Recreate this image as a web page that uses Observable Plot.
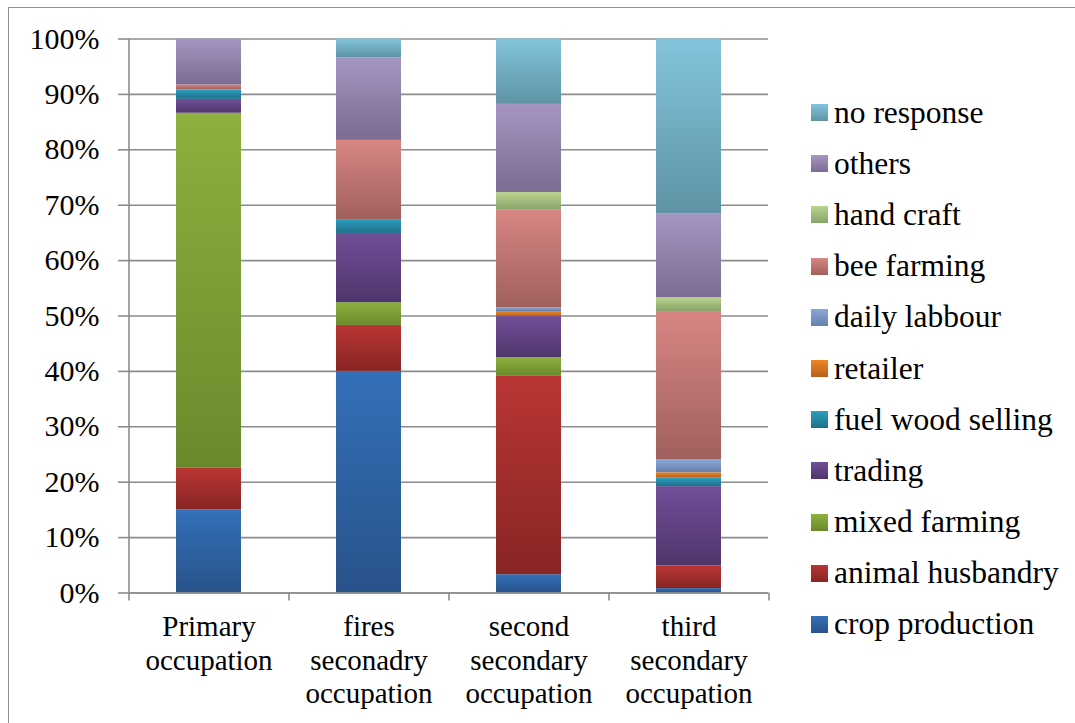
<!DOCTYPE html>
<html>
<head>
<meta charset="utf-8">
<script src="https://cdn.jsdelivr.net/npm/d3@7"></script>
<script src="https://cdn.jsdelivr.net/npm/@observablehq/plot@0.6"></script>
<style>
  .wrap { position: relative; width: 1075px; height: 723px; overflow: hidden; font-family: 'Liberation Serif', serif; }
  .border { position: absolute; left: 8px; top: 7px; width: 1200px; height: 800px; border-left: 1.5px solid #8f8f8f; border-top: 1.5px solid #8f8f8f; }
  .chart { position: absolute; left: 0; top: 0; }
  .legend { position: absolute; left: 811px; top: 87px; font-size: 31.5px; color: #000; font-family: 'Liberation Serif', serif; }
  .row { display: flex; align-items: center; height: 51.2px; }
  .sw { width: 17px; height: 17px; margin-right: 6px; flex: none; }
</style>
</head>
<body style="margin:0">
<div class="wrap">
  <div class="border"></div>
  <div class="chart" id="chart"></div>
  <div class="legend" id="legend"></div>
</div>
<script>
// ---- data ----
const categories = ["Primary occupation", "fires seconadry occupation", "second secondary occupation", "third secondary occupation"];
const categoryLabels = ["Primary\noccupation", "fires\nseconadry\noccupation", "second\nsecondary\noccupation", "third\nsecondary\noccupation"];
const series = ["crop production", "animal husbandry", "mixed farming", "trading", "fuel wood selling", "retailer", "daily labbour", "bee farming", "hand craft", "others", "no response"];
const cropProduction   = [15.0, 40.0, 3.3, 0.8];
const animalHusbandry  = [7.5, 8.3, 35.8, 4.1];
const mixedFarming     = [64.1, 4.1, 3.4, 0];
const trading          = [2.5, 12.5, 7.4, 14.3];
const fuelWoodSelling  = [1.7, 2.5, 0, 1.6];
const retailer         = [0, 0, 0.9, 0.9];
const dailyLabbour     = [0, 0, 0.7, 2.3];
const beeFarming       = [0.9, 14.3, 17.6, 26.8];
const handCraft        = [0, 0, 3.2, 2.5];
const others           = [8.3, 14.9, 15.9, 15.1];
const noResponse       = [0, 3.4, 11.8, 31.6];
const yTicks = [0, 10, 20, 30, 40, 50, 60, 70, 80, 90, 100];

const seriesValues = [cropProduction, animalHusbandry, mixedFarming, trading, fuelWoodSelling, retailer, dailyLabbour, beeFarming, handCraft, others, noResponse];
// gradient colours (top, bottom) per series
const gradTop    = ["#3470b8", "#b93633", "#8db03f", "#714f98", "#2b9ec0", "#f08526", "#8aa7d6", "#d88684", "#bad38f", "#a595c1", "#83c4dc"];
const gradBottom = ["#28528a", "#882524", "#698a2c", "#4f356c", "#1f7089", "#b75f1c", "#6680ab", "#a0605d", "#88a36a", "#7c6b92", "#5f93a5"];

const rows = [];
series.forEach((s, si) => categories.forEach((c, ci) => rows.push({category: c, series: s, value: seriesValues[si][ci]})));

// ---- layout ----
const W = 1075, H = 723;
const mL = 128, mR = 307, mT = 38.5, mB = 130.5;
const step = (W - mL - mR) / categories.length;
const font = "Liberation Serif";

const plot = Plot.plot({
  width: W,
  height: H,
  marginLeft: mL,
  marginRight: mR,
  marginTop: mT,
  marginBottom: mB,
  style: {fontFamily: font, fontSize: "30px", color: "#000", background: "transparent", overflow: "visible"},
  x: {domain: categories, paddingInner: 0.594, paddingOuter: 0.297, axis: null},
  y: {domain: [0, 100], axis: null},
  color: {domain: series, range: series.map((s, i) => `url(#grad${i})`)},
  marks: [
    Plot.ruleY(yTicks, {stroke: "#8c8c8c", strokeWidth: 1.6}),
    Plot.axisY(yTicks, {label: null, tickSize: 10, tickPadding: 19, tickFormat: d => d + "%", stroke: "#8c8c8c", strokeWidth: 1.6, fontSize: 30, fill: "#000"}),
    Plot.barY(rows, {x: "category", y: "value", fill: "series", order: null}),
    Plot.ruleX([categories[0]], {x: d => d, dx: -step / 2, stroke: "#8c8c8c", strokeWidth: 1.6}),
    Plot.ruleX(categories, {x: d => d, dx: -step / 2, y1: 0, y2: 0, insetBottom: -8, stroke: "#8c8c8c", strokeWidth: 1.6}),
    Plot.ruleX([categories[categories.length - 1]], {x: d => d, dx: step / 2, y1: 0, y2: 0, insetBottom: -8, stroke: "#8c8c8c", strokeWidth: 1.6}),
    Plot.ruleY([0], {stroke: "#8c8c8c", strokeWidth: 1.6}),
    Plot.text(categories, {x: d => d, y: 0, text: (d, i) => categoryLabels[i], lineAnchor: "top", dy: 20, lineHeight: 1.14, fontSize: 29, fill: "#000"})
  ]
});

// gradient defs
const ns = "http://www.w3.org/2000/svg";
const defs = document.createElementNS(ns, "defs");
gradTop.forEach((top, i) => {
  const g = document.createElementNS(ns, "linearGradient");
  g.setAttribute("id", `grad${i}`);
  g.setAttribute("x1", "0"); g.setAttribute("y1", "0");
  g.setAttribute("x2", "0"); g.setAttribute("y2", "1");
  const s1 = document.createElementNS(ns, "stop");
  s1.setAttribute("offset", "0"); s1.setAttribute("stop-color", top);
  const s2 = document.createElementNS(ns, "stop");
  s2.setAttribute("offset", "1"); s2.setAttribute("stop-color", gradBottom[i]);
  g.appendChild(s1); g.appendChild(s2);
  defs.appendChild(g);
});
plot.insertBefore(defs, plot.firstChild);
document.getElementById("chart").appendChild(plot);

// legend (top to bottom: reverse stacking order)
const legend = document.getElementById("legend");
series.slice().reverse().forEach(s => {
  const i = series.indexOf(s);
  const row = document.createElement("div");
  row.className = "row";
  const sw = document.createElement("div");
  sw.className = "sw";
  sw.style.background = `linear-gradient(${gradTop[i]}, ${gradBottom[i]})`;
  const t = document.createElement("span");
  t.textContent = s;
  row.appendChild(sw); row.appendChild(t);
  legend.appendChild(row);
});
</script>
</body>
</html>
